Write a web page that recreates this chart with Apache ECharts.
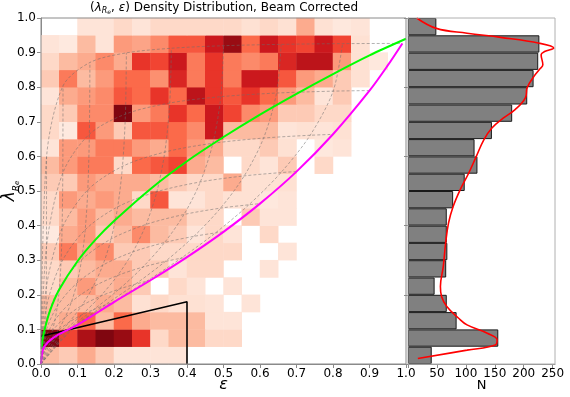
<!DOCTYPE html>
<html>
<head>
<meta charset="utf-8">
<script src="https://cdn.jsdelivr.net/npm/echarts@6/dist/echarts.min.js"></script>
<style>
html,body{margin:0;padding:0;background:#fff;}
#chart{width:570px;height:397px;}
</style>
</head>
<body>
<div id="chart"></div>
<script>
// bins of 0.05 in both eps and lambda
var binNames = ['0.00','0.05','0.10','0.15','0.20','0.25','0.30','0.35','0.40','0.45',
                '0.50','0.55','0.60','0.65','0.70','0.75','0.80','0.85','0.90','0.95'];

// density levels, one row per lambda bin (bottom row first), one column per eps bin
var densityRows = [
    [2.5,2,3,2,1,1,1,1,0,0, 0,0,0,0,0,0,0,0,0,0],
    [9.5,6,8.5,9.5,9,6.5,1.5,2.5,2.5,1.5, 1.5,0,0,0,0,0,0,0,0,0],
    [2.5,3,5,2.5,5,3,2.5,2.5,2.5,1, 1,0,0,0,0,0,0,0,0,0],
    [2.5,2.5,2.5,3,2.5,1.2,1.5,1.2,1.2,1, 0,1,0,0,0,0,0,0,0,0],
    [1.5,2.5,3.5,2.5,3,2,0,1.5,1,0, 1,0,0,0,0,0,0,0,0,0],
    [1.5,2,2.5,3,3,2,2,1,1.5,1.5, 0,0,1,0,0,0,0,0,0,0],
    [2,4.5,3,4,2,2,1.5,1.5,1.5,1.5, 1.5,0,0,1,0,0,0,0,0,0],
    [0.7,3,3.5,2,2.5,4,2.5,2,1,1.5, 1,0,1.5,0,0,0,0,0,0,0],
    [1.5,2.5,3.5,2.5,3,2.5,2.5,2.5,1.5,1.5, 0,2,1,1,0,0,0,0,0,0],
    [1.5,3.5,3,3.5,3,1.5,5.5,1,1,1.5, 1.2,1.2,0.8,1,0,0,0,0,0,0],
    [2,2,3.5,3,3,3,2.5,2,1.5,1.5, 3,1.2,1.2,1.2,0,0,0,0,0,0],
    [2.5,3.5,4.5,4.5,1.5,5,5.5,6,3,2.5, 0,1.5,1,2,0,1.5,0,0,0,0],
    [1,3.5,3.5,4.5,4.5,3.5,3,5,3.5,3, 1.5,1.5,2,1.2,0,0.8,1,0,0,0],
    [1.5,0.7,5.5,3.5,2,5.5,5.5,5,4,7.5, 2.5,2.5,2.5,1,1.2,1,1.2,0,0,0],
    [1.5,2,4,4,9.5,3.5,4.5,6.5,5,7.5, 6,4,3.5,2,2,1.5,1.5,0,0,0],
    [1,3,3.5,4,5.5,5,6.5,5,8,6.5, 5.5,6.5,5,3.5,2.5,1,2,0,0,0],
    [2,4.5,2.5,3.5,5,5,3.8,7,4.5,6.5, 4.5,7.5,7.5,5.5,3.5,3,2,1.2,0,0],
    [1.5,2.5,3,4,3,6.5,6,7.5,4.5,6.5, 4.5,4,4.5,7,8,8,3.5,1.2,0.8,0],
    [1,0.7,2.5,1,3.5,3.2,4,5.5,5.5,7.5, 9,5,7.5,6.5,6,7.5,6,1.2,0,0],
    [0,0,1,1,1.5,1,1.5,1.5,1.5,1.5, 1.5,1.2,1.5,1.2,3,1.2,0.8,1,0,0]
];

// marginal histogram of lambda (bottom bin first)
var histCounts = [41,156,84,67,46,66,68,67,67,78,98,120,115,145,180,206,217,225,227,49];

// smoothed marginal curve
var kdeN   = [17,102,151,154,137,102,87,67,58,56,61,65,70,78,90,105,118,131,145,165,185,203,206,218,227,233,230,236,252,227,160,102,49,15];
var kdeLam = [0.016,0.040,0.055,0.070,0.089,0.113,0.133,0.166,0.195,0.224,0.282,0.349,0.407,0.455,0.503,0.552,0.600,0.648,0.682,0.711,0.735,0.770,0.799,0.832,0.851,0.865,0.894,0.903,0.913,0.927,0.944,0.956,0.970,1.000];

// green: edge-on isotropic
var isoEps = [0.002,0.005,0.01,0.025,0.05,0.1,0.15,0.2,0.3,0.4,0.5,0.6,0.7,0.8,0.9,1.0];
var isoLam = [0.05,0.075,0.10,0.155,0.215,0.297,0.36,0.413,0.506,0.586,0.656,0.721,0.781,0.838,0.892,0.94];

// magenta: edge-on anisotropic
var anisoEps = [0,0.005,0.018,0.046,0.1,0.2,0.3,0.4,0.5,0.6,0.7,0.8,0.9,0.95,0.99];
var anisoLam = [0,0.04,0.062,0.084,0.113,0.179,0.242,0.309,0.382,0.4635,0.556,0.664,0.790,0.863,0.9265];

// black: slow rotator region
var slowEps = [0,0.4,0.4];
var slowLam = [0.08,0.18,0];

// dotted grid: rows = intrinsic ellipticity, columns = inclination 0..90 deg
var intrEll = [0.1,0.2,0.3,0.4,0.5,0.6,0.7,0.8,0.9,0.99];
var inclDeg = [0,10,20,30,40,50,60,70,80,90];
var gridEps = [
    [0,.0029,.0112,.0240,.0401,.0574,.0740,.0877,.0968,.1],
    [0,.0054,.0213,.0461,.0774,.1119,.1456,.1741,.1933,.2],
    [0,.0077,.0303,.0659,.1116,.1629,.2142,.2586,.2891,.3],
    [0,.0097,.0382,.0835,.1423,.2098,.2789,.3406,.3841,.4],
    [0,.0114,.0449,.0986,.1693,.2518,.3386,.4189,.4779,.5],
    [0,.0128,.0504,.1112,.1920,.2879,.3917,.4918,.5695,.6],
    [0,.0138,.0547,.1211,.2101,.3174,.4365,.5568,.6573,.7],
    [0,.0146,.0578,.1282,.2232,.3392,.4709,.6098,.7374,.8],
    [0,.0150,.0597,.1325,.2313,.3527,.4926,.6453,.8004,.9],
    [0,.0152,.0603,.1340,.2339,.3572,.4999,.6579,.8261,.99]
];
var gridLam = [
    [0,.0204,.0400,.0581,.0742,.0877,.0985,.1063,.1110,.1126],
    [0,.0339,.0662,.0955,.1210,.1419,.1581,.1696,.1764,.1787],
    [0,.0485,.0940,.1345,.1687,.1959,.2165,.2308,.2391,.2418],
    [0,.0659,.1270,.1797,.2227,.2558,.2800,.2964,.3059,.3089],
    [0,.0880,.1677,.2341,.2857,.3240,.3511,.3689,.3789,.3820],
    [0,.1172,.2200,.3013,.3612,.4034,.4321,.4505,.4602,.4635],
    [0,.1584,.2908,.3880,.4541,.4979,.5262,.5437,.5532,.5562],
    [0,.2222,.3925,.5032,.5712,.6126,.6379,.6530,.6611,.6636],
    [0,.3380,.5521,.6640,.7222,.7543,.7726,.7831,.7886,.7903],
    [0,.5983,.8039,.8714,.8992,.9126,.9199,.9238,.9259,.9265]
];

var font = 'DejaVu Sans';
var axisGray = '#8a8a8a';

function pairs(xs, ys){
    var out = [];
    for (var i = 0; i < xs.length; i++) out.push([xs[i], ys[i]]);
    return out;
}

var heatData = [];
densityRows.forEach(function(row, b){
    row.forEach(function(v, c){
        if (v > 0) heatData.push([c, b, v]);
    });
});

var dotted = {color:'rgba(110,110,110,0.75)', width:0.7, type:[3,2]};
var gridSeries = [];
// fixed intrinsic ellipticity, inclination varying
intrEll.forEach(function(e, k){
    gridSeries.push({
        type:'line', xAxisIndex:0, yAxisIndex:0, symbol:'none', smooth:0.3, silent:true,
        lineStyle:dotted, data:pairs(gridEps[k], gridLam[k])
    });
});
// fixed inclination, intrinsic ellipticity varying
inclDeg.forEach(function(d, j){
    if (j === 0 || j === inclDeg.length - 1) return;
    var pts = [[0,0]];
    for (var k = 0; k < intrEll.length; k++) pts.push([gridEps[k][j], gridLam[k][j]]);
    gridSeries.push({
        type:'line', xAxisIndex:0, yAxisIndex:0, symbol:'none', smooth:0.3, silent:true,
        lineStyle:dotted, data:pts
    });
});

var option = {
    animation:false,
    backgroundColor:'#fff',
    title:{
        text:'({i|λ}{s|R}{t|e}, {i|ε}) Density Distribution, Beam Corrected',
        left:224, top:0, padding:0, textAlign:'center',
        textStyle:{
            fontSize:12, fontWeight:'normal', color:'#000', fontFamily:font,
            rich:{
                i:{fontSize:12, fontStyle:'italic', fontFamily:font},
                s:{fontSize:8, fontStyle:'italic', fontFamily:font, verticalAlign:'bottom', lineHeight:15},
                t:{fontSize:6, fontStyle:'italic', fontFamily:font, verticalAlign:'bottom', lineHeight:13}
            }
        }
    },
    visualMap:{
        show:false, seriesIndex:0, min:0, max:10,
        inRange:{color:['#fff5f0','#fee0d2','#fcbba1','#fc9272','#fb6a4a','#ef3b2c','#cb181d','#a50f15','#67000d']}
    },
    grid:[
        {left:41, top:18, width:365, height:346, outerBoundsMode:'none', containLabel:false,
         show:true, borderColor:axisGray, borderWidth:1, backgroundColor:'transparent', z:5},
        {left:408, top:18, width:147, height:346, outerBoundsMode:'none', containLabel:false,
         show:true, borderColor:'#b0b0b0', borderWidth:1, backgroundColor:'transparent', z:5}
    ],
    xAxis:[
        {
            gridIndex:0, type:'value', min:0, max:1, interval:0.1,
            axisLine:{show:true, onZero:false, lineStyle:{color:axisGray}},
            axisTick:{show:true, length:4, lineStyle:{color:axisGray}},
            splitLine:{show:false},
            axisLabel:{margin:4, color:'#000', fontSize:12, fontFamily:font,
                formatter:function(v){ return v.toFixed(1); }},
            name:'ε', nameLocation:'middle', nameGap:13, nameMoveOverlap:false,
            nameTextStyle:{fontSize:16, fontStyle:'italic', color:'#000', fontFamily:font}
        },
        {gridIndex:0, type:'category', data:binNames, show:false},
        {
            gridIndex:1, type:'value', min:0, max:254, interval:50,
            axisLine:{show:true, onZero:false, lineStyle:{color:axisGray}},
            axisTick:{show:true, length:4, lineStyle:{color:axisGray}},
            splitLine:{show:false},
            axisLabel:{margin:4, color:'#000', fontSize:12, fontFamily:font,
                formatter:function(v){ return v === 0 ? '' : String(v); }},
            name:'N', nameLocation:'middle', nameGap:15, nameMoveOverlap:false,
            nameTextStyle:{fontSize:13, color:'#000', fontFamily:font}
        }
    ],
    yAxis:[
        {
            gridIndex:0, type:'value', min:0, max:1, interval:0.1,
            axisLine:{show:true, onZero:false, lineStyle:{color:axisGray}},
            axisTick:{show:true, length:4, lineStyle:{color:axisGray}},
            splitLine:{show:false},
            axisLabel:{margin:5, color:'#000', fontSize:12, fontFamily:font,
                formatter:function(v){ return v.toFixed(1); }},
            name:'{l|λ}{s|R}{t|e}', nameLocation:'middle', nameGap:20, nameMoveOverlap:false,
            nameTextStyle:{color:'#000', fontFamily:font,
                rich:{
                    l:{fontSize:17, fontStyle:'italic', fontFamily:font, lineHeight:22},
                    s:{fontSize:9, fontStyle:'italic', fontFamily:font, verticalAlign:'bottom', lineHeight:16},
                    t:{fontSize:7, fontStyle:'italic', fontFamily:font, verticalAlign:'bottom', lineHeight:14}
                }}
        },
        {gridIndex:0, type:'category', data:binNames, show:false},
        {
            gridIndex:1, type:'value', min:0, max:1, interval:0.2,
            axisLine:{show:true, onZero:false, lineStyle:{color:axisGray}},
            axisTick:{show:true, length:4, lineStyle:{color:axisGray}},
            splitLine:{show:false},
            axisLabel:{show:false}
        },
        {gridIndex:1, type:'category', data:binNames, show:false}
    ],
    series:[
        {
            type:'heatmap', xAxisIndex:1, yAxisIndex:1, data:heatData, silent:true,
            itemStyle:{borderWidth:0}
        }
    ].concat(gridSeries).concat([
        {
            type:'line', xAxisIndex:0, yAxisIndex:0, symbol:'none', silent:true,
            lineStyle:{color:'#000', width:1.6}, data:pairs(slowEps, slowLam)
        },
        {
            type:'line', xAxisIndex:0, yAxisIndex:0, symbol:'none', smooth:0.3, silent:true,
            lineStyle:{color:'#00ff00', width:2}, data:pairs(isoEps, isoLam)
        },
        {
            type:'line', xAxisIndex:0, yAxisIndex:0, symbol:'none', smooth:0.3, silent:true,
            lineStyle:{color:'#ff00ff', width:2}, data:pairs(anisoEps, anisoLam)
        },
        {
            type:'bar', xAxisIndex:2, yAxisIndex:3, data:histCounts, barCategoryGap:'0%', silent:true,
            itemStyle:{color:'#808080', borderColor:'#1a1a1a', borderWidth:1}
        },
        {
            type:'line', xAxisIndex:2, yAxisIndex:2, symbol:'none', smooth:0.4, silent:true,
            lineStyle:{color:'#ff0000', width:1.6}, data:pairs(kdeN, kdeLam)
        }
    ])
};

var myChart = echarts.init(document.getElementById('chart'));
myChart.setOption(option);
</script>
</body>
</html>
